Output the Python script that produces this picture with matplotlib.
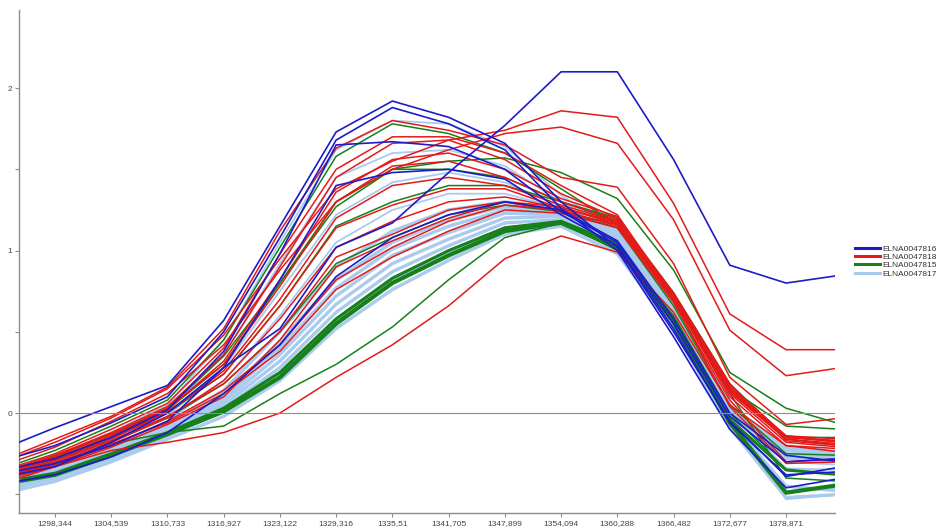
import matplotlib
matplotlib.use("Agg")
import matplotlib.pyplot as plt
from matplotlib.lines import Line2D

# wavenumber labels on the x axis (one per sample point)
tick_labels = ["1298,344", "1304,539", "1310,733", "1316,927", "1323,122", "1329,316",
               "1335,51", "1341,705", "1347,899", "1354,094", "1360,288", "1366,482",
               "1372,677", "1378,871"]
# sample positions: one point before the first label and one after the last one
x_pos = list(range(-1, 15))

# ELNA0047816 (blue)
blue_1 = [-0.40, -0.33, -0.18, 0.00, 0.28, 0.52, 1.02, 1.17, 1.48, 1.77, 2.10, 2.10, 1.56, 0.91, 0.80, 0.85]
blue_2 = [-0.23, -0.09, 0.04, 0.17, 0.57, 1.15, 1.73, 1.92, 1.82, 1.66, 1.30, 1.02, 0.50, -0.05, -0.39, -0.33]
blue_3 = [-0.30, -0.20, -0.06, 0.10, 0.50, 1.08, 1.68, 1.88, 1.78, 1.62, 1.26, 1.00, 0.47, -0.10, -0.46, -0.40]
blue_4 = [-0.36, -0.28, -0.15, 0.02, 0.38, 0.98, 1.65, 1.67, 1.64, 1.50, 1.24, 1.05, 0.55, -0.02, -0.30, -0.28]
blue_5 = [-0.38, -0.31, -0.20, -0.05, 0.28, 0.82, 1.40, 1.48, 1.50, 1.44, 1.22, 1.03, 0.52, -0.06, -0.38, -0.36]
blue_6 = [-0.44, -0.38, -0.27, -0.12, 0.12, 0.42, 0.84, 1.08, 1.22, 1.30, 1.25, 1.06, 0.58, 0.00, -0.26, -0.30]

# ELNA0047818 (red)
red_1 = [-0.31, -0.18, -0.03, 0.15, 0.48, 0.95, 1.38, 1.55, 1.68, 1.74, 1.86, 1.82, 1.29, 0.61, 0.39, 0.39]
red_2 = [-0.33, -0.21, -0.05, 0.12, 0.42, 0.88, 1.30, 1.50, 1.62, 1.72, 1.76, 1.66, 1.19, 0.51, 0.23, 0.28]
red_3 = [-0.44, -0.33, -0.23, -0.18, -0.12, 0.00, 0.22, 0.42, 0.66, 0.95, 1.09, 0.99, 0.62, 0.05, -0.20, -0.22]
red_4 = [-0.30, -0.16, -0.02, 0.16, 0.52, 1.12, 1.63, 1.80, 1.74, 1.65, 1.45, 1.39, 0.92, 0.22, -0.07, -0.03]
red_5 = [-0.36, -0.25, -0.10, 0.06, 0.40, 0.98, 1.50, 1.70, 1.70, 1.60, 1.40, 1.22, 0.72, 0.16, -0.15, -0.18]
red_6 = [-0.37, -0.26, -0.12, 0.04, 0.36, 0.90, 1.45, 1.66, 1.68, 1.56, 1.35, 1.20, 0.74, 0.18, -0.17, -0.20]
red_7 = [-0.38, -0.28, -0.14, 0.02, 0.32, 0.82, 1.36, 1.56, 1.60, 1.50, 1.32, 1.21, 0.71, 0.14, -0.16, -0.19]
red_8 = [-0.37, -0.27, -0.13, 0.03, 0.30, 0.78, 1.30, 1.52, 1.55, 1.45, 1.30, 1.19, 0.73, 0.17, -0.14, -0.16]
red_9 = [-0.39, -0.29, -0.16, 0.00, 0.26, 0.70, 1.20, 1.40, 1.45, 1.40, 1.28, 1.18, 0.70, 0.12, -0.18, -0.21]
red_10 = [-0.38, -0.28, -0.15, 0.01, 0.24, 0.66, 1.14, 1.28, 1.38, 1.38, 1.26, 1.18, 0.72, 0.15, -0.15, -0.17]
red_11 = [-0.40, -0.31, -0.18, -0.03, 0.20, 0.58, 1.02, 1.18, 1.30, 1.33, 1.26, 1.17, 0.70, 0.13, -0.16, -0.20]
red_12 = [-0.39, -0.30, -0.17, -0.02, 0.18, 0.50, 0.96, 1.10, 1.25, 1.30, 1.24, 1.16, 0.71, 0.14, -0.14, -0.18]
red_13 = [-0.41, -0.32, -0.20, -0.05, 0.14, 0.42, 0.82, 1.02, 1.18, 1.28, 1.25, 1.15, 0.70, 0.10, -0.20, -0.24]
red_14 = [-0.40, -0.31, -0.19, -0.06, 0.12, 0.38, 0.76, 0.96, 1.12, 1.25, 1.23, 1.14, 0.68, 0.08, -0.30, -0.28]
red_15 = [-0.42, -0.33, -0.21, -0.07, 0.10, 0.45, 0.90, 1.06, 1.20, 1.30, 1.27, 1.16, 0.69, 0.04, -0.31, -0.30]

# ELNA0047815 (green)
green_1 = [-0.40, -0.32, -0.19, -0.12, -0.08, 0.12, 0.30, 0.53, 0.82, 1.08, 1.17, 1.00, 0.60, 0.00, -0.35, -0.38]
green_2 = [-0.37, -0.26, -0.13, 0.03, 0.35, 0.80, 1.27, 1.50, 1.55, 1.57, 1.48, 1.32, 0.88, 0.25, 0.03, -0.07]
green_3 = [-0.44, -0.38, -0.26, -0.13, 0.01, 0.22, 0.55, 0.80, 0.97, 1.12, 1.17, 1.02, 0.56, -0.06, -0.49, -0.44]
green_4 = [-0.43, -0.37, -0.25, -0.12, 0.03, 0.25, 0.58, 0.83, 1.00, 1.14, 1.18, 1.04, 0.58, -0.04, -0.35, -0.38]
green_5 = [-0.37, -0.27, -0.13, 0.02, 0.30, 0.80, 1.30, 1.50, 1.50, 1.45, 1.30, 1.20, 0.74, 0.18, -0.15, -0.15]
green_6 = [-0.39, -0.29, -0.17, -0.03, 0.18, 0.50, 0.92, 1.08, 1.22, 1.28, 1.24, 1.14, 0.66, 0.05, -0.25, -0.26]
green_7 = [-0.38, -0.28, -0.15, 0.00, 0.24, 0.66, 1.15, 1.30, 1.40, 1.40, 1.30, 1.18, 0.70, 0.12, -0.40, -0.42]
green_8 = [-0.35, -0.23, -0.08, 0.08, 0.45, 1.02, 1.58, 1.78, 1.72, 1.60, 1.38, 1.16, 0.70, 0.15, -0.08, -0.10]

# ELNA0047817 (light blue)
light_1 = [-0.50, -0.42, -0.30, -0.16, -0.02, 0.20, 0.52, 0.76, 0.94, 1.10, 1.15, 0.98, 0.52, -0.09, -0.52, -0.50]
light_2 = [-0.48, -0.40, -0.28, -0.14, 0.01, 0.24, 0.57, 0.82, 0.99, 1.14, 1.17, 1.02, 0.55, -0.05, -0.45, -0.48]
light_3 = [-0.47, -0.39, -0.27, -0.13, 0.03, 0.28, 0.62, 0.87, 1.03, 1.17, 1.19, 1.04, 0.58, -0.02, -0.28, -0.30]
light_4 = [-0.46, -0.38, -0.26, -0.12, 0.05, 0.32, 0.67, 0.92, 1.07, 1.20, 1.21, 1.06, 0.60, 0.00, -0.25, -0.27]
light_5 = [-0.45, -0.37, -0.25, -0.11, 0.07, 0.36, 0.72, 0.97, 1.11, 1.23, 1.22, 1.08, 0.62, 0.02, -0.22, -0.25]
light_6 = [-0.44, -0.36, -0.24, -0.10, 0.09, 0.40, 0.77, 1.01, 1.15, 1.25, 1.23, 1.09, 0.63, 0.03, -0.21, -0.24]
light_7 = [-0.43, -0.35, -0.23, -0.09, 0.11, 0.44, 0.82, 1.05, 1.19, 1.27, 1.24, 1.10, 0.64, 0.04, -0.23, -0.26]
light_8 = [-0.43, -0.35, -0.22, -0.07, 0.14, 0.50, 0.90, 1.12, 1.25, 1.30, 1.25, 1.11, 0.65, 0.05, -0.26, -0.28]
light_9 = [-0.42, -0.33, -0.20, -0.05, 0.20, 0.60, 1.05, 1.25, 1.35, 1.35, 1.26, 1.12, 0.66, 0.06, -0.30, -0.32]
light_10 = [-0.41, -0.31, -0.18, -0.02, 0.28, 0.75, 1.22, 1.42, 1.48, 1.42, 1.27, 1.12, 0.66, 0.02, -0.34, -0.35]
light_11 = [-0.40, -0.29, -0.15, 0.01, 0.36, 0.92, 1.45, 1.60, 1.62, 1.52, 1.30, 1.13, 0.65, 0.00, -0.48, -0.46]
light_12 = [-0.39, -0.27, -0.12, 0.05, 0.45, 1.05, 1.62, 1.80, 1.78, 1.64, 1.34, 1.12, 0.63, -0.04, -0.53, -0.50]

band_lines = [light_1, light_2, light_3, light_4, light_5, light_6, light_7, light_8]
loose_lines = [light_9, light_10, light_11, light_12]

groups = [
    ("ELNA0047816", "#1c1cc8", [blue_1, blue_2, blue_3, blue_4, blue_5, blue_6]),
    ("ELNA0047818", "#e41a1a", [red_1, red_2, red_3, red_4, red_5, red_6, red_7, red_8,
                                red_9, red_10, red_11, red_12, red_13, red_14, red_15]),
    ("ELNA0047815", "#17801a", [green_1, green_2, green_3, green_4, green_5, green_6,
                                green_7, green_8]),
    ("ELNA0047817", "#a9cbee", band_lines + loose_lines),
]
# drawing order (back to front) and line widths per group
draw_order = {"ELNA0047817": 1, "ELNA0047815": 2, "ELNA0047818": 3, "ELNA0047816": 4}
widths = {"ELNA0047817": 2.4, "ELNA0047815": 1.1, "ELNA0047818": 1.1, "ELNA0047816": 1.2}

plt.rcParams['font.family'] = ['Liberation Sans', 'DejaVu Sans']

fig = plt.figure(figsize=(9.44, 5.29), dpi=100)
ax = fig.add_axes([0.0201, 0.0302, 0.8644, 0.9508])

for name, color, lines in groups:
    for ys in lines:
        lw = widths[name]
        if name == "ELNA0047817" and any(ys is l for l in loose_lines):
            lw = 1.3
        ax.plot(x_pos, ys, color=color, linewidth=lw, zorder=draw_order[name],
                solid_joinstyle='miter')

# the thick green lower edge of the band
ax.plot(x_pos, green_3, color="#17801a", linewidth=3.0, zorder=2.5)
ax.plot(x_pos, green_4, color="#17801a", linewidth=2.2, zorder=2.5)

ax.axhline(0, color="#8c8c8c", linewidth=0.8, zorder=10)

ax.set_xlim(-0.64, 13.87)
ax.set_ylim(-0.615, 2.48)
ax.set_xticks(range(len(tick_labels)))
ax.set_xticklabels(tick_labels)
ax.set_yticks([0, 1, 2])
ax.set_yticklabels(["0", "1", "2"])
ax.set_yticks([-0.5, 0.5, 1.5], minor=True)

for side in ("top", "right"):
    ax.spines[side].set_visible(False)
for side in ("left", "bottom"):
    ax.spines[side].set_color("#8c8c8c")
    ax.spines[side].set_linewidth(1.0)
ax.tick_params(axis="both", which="both", direction="out", length=3, width=0.8,
               color="#8c8c8c", labelsize=6, labelcolor="#444444", pad=2)

handles = [Line2D([0], [0], color=c, linewidth=2.2) for _, c, _ in groups]
fig.legend(handles, [n for n, _, _ in groups], loc="center left",
           bbox_to_anchor=(0.901, 0.506), frameon=False, fontsize=6,
           handlelength=3.0, handletextpad=0.35, labelspacing=0.05,
           borderpad=0, labelcolor="#333333")

fig.savefig("out.png", dpi=100)
